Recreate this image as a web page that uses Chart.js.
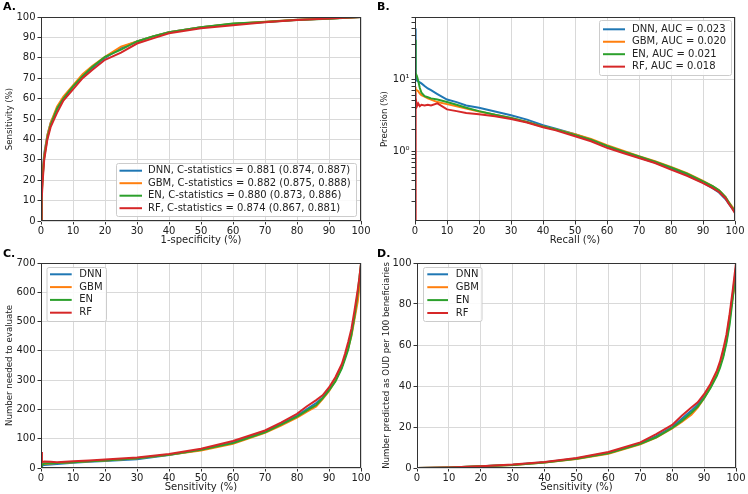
<!DOCTYPE html>
<html>
<head>
<meta charset="utf-8">
<script src="https://cdn.jsdelivr.net/npm/chart.js@4.4.0/dist/chart.umd.min.js"></script>
<style>
body{margin:0;background:#fff}
#wrap{position:relative;width:748px;height:494px;overflow:hidden}
canvas{position:absolute}
</style>
</head>
<body>
<div id="wrap">
  <canvas id="cA" width="374" height="247" style="left:0;top:0"></canvas>
  <canvas id="cB" width="374" height="247" style="left:374px;top:0"></canvas>
  <canvas id="cC" width="374" height="247" style="left:0;top:247px"></canvas>
  <canvas id="cD" width="374" height="247" style="left:374px;top:247px"></canvas>
</div>
<script>
const models = ['DNN', 'GBM', 'EN', 'RF'];
const colors = ['#1f77b4', '#ff7f0e', '#2ca02c', '#d62728'];

// A. ROC (1-specificity % vs sensitivity %)
const rocFpr = [0, 0.2, 0.5, 1, 2, 3, 5, 7, 10, 13, 16, 20, 25, 30, 35, 40, 50, 60, 70, 80, 90, 100];
const rocDNN = [0, 15, 24, 33, 42, 48, 55, 60, 66, 71, 75, 80, 85, 88, 90.5, 92.5, 95, 96.6, 97.6, 98.6, 99.3, 100];
const rocGBM = [0, 13, 22, 32, 42, 48, 56, 61, 66.5, 72, 76, 80.5, 85.5, 88, 90.5, 92.5, 95, 96.7, 97.7, 98.7, 99.3, 100];
const rocEN  = [0, 12, 21, 31, 41, 47, 55, 60, 66, 71, 75.5, 80.5, 84, 88, 90.5, 92.5, 95, 96.8, 97.6, 98.5, 99.2, 100];
const rocRF  = [0, 10, 19, 30, 40, 46, 53, 59, 64.5, 70, 74, 79, 82.5, 87, 89.5, 92, 94.5, 96, 97.4, 98.5, 99.3, 100];
const rocLabels = ['DNN, C-statistics = 0.881 (0.874, 0.887)', 'GBM, C-statistics = 0.882 (0.875, 0.888)',
  'EN, C-statistics = 0.880 (0.873, 0.886)', 'RF, C-statistics = 0.874 (0.867, 0.881)'];

// B. precision-recall (log y)
const prRecall = [0, 0.1, 0.3, 0.6, 1, 1.5, 2, 3, 4, 5, 7, 10, 13, 16, 20, 25, 30, 35, 40, 44, 50, 55, 60, 65, 70, 75, 80, 85, 90, 93, 95, 97, 98, 99, 100];
const prDNN = [50, 20, 12, 9.5, 9.3, 9, 8.7, 8, 7.4, 7, 6.2, 5.2, 4.8, 4.3, 4.0, 3.55, 3.15, 2.75, 2.3, 2.05, 1.72, 1.45, 1.18, 0.98, 0.82, 0.7, 0.58, 0.47, 0.37, 0.31, 0.27, 0.22, 0.19, 0.165, 0.145];
const prGBM = [7.5, 7.8, 7.2, 7, 6.8, 6.3, 6, 5.7, 5.4, 5.2, 4.8, 4.5, 4.2, 3.9, 3.55, 3.2, 2.9, 2.55, 2.2, 2.0, 1.72, 1.48, 1.22, 1.02, 0.86, 0.73, 0.61, 0.5, 0.39, 0.33, 0.29, 0.235, 0.2, 0.175, 0.155];
const prEN  = [35, 18, 12, 11, 9.5, 7.5, 6.5, 5.8, 5.6, 5.4, 5.2, 4.8, 4.4, 4.0, 3.6, 3.2, 2.9, 2.55, 2.2, 2.0, 1.68, 1.45, 1.19, 1.0, 0.85, 0.72, 0.6, 0.49, 0.385, 0.33, 0.29, 0.235, 0.2, 0.17, 0.15];
const prRF  = [0.1, 6.5, 5.5, 4.2, 4.6, 4.2, 4.4, 4.3, 4.4, 4.3, 4.6, 3.8, 3.6, 3.4, 3.25, 3.05, 2.8, 2.5, 2.15, 1.95, 1.62, 1.38, 1.12, 0.95, 0.81, 0.69, 0.56, 0.46, 0.365, 0.31, 0.275, 0.225, 0.19, 0.165, 0.14];
const prLabels = ['DNN, AUC = 0.023', 'GBM, AUC = 0.020', 'EN, AUC = 0.021', 'RF, AUC = 0.018'];
const prTicks = [0.2, 0.3, 0.4, 0.5, 0.6, 0.7, 0.8, 0.9, 1, 2, 3, 4, 5, 6, 7, 8, 9, 10, 20, 30, 40, 50, 60, 70];

// C. number needed to evaluate
const nneSens = [0, 0.3, 1, 3, 5, 10, 15, 20, 30, 40, 50, 60, 70, 75, 80, 83, 86, 88, 90, 92, 94, 95, 96, 97, 98, 99, 99.5, 100];
const nneDNN = [5, 8, 10, 12, 14, 18, 21, 24, 30, 44, 62, 86, 124, 150, 178, 200, 222, 240, 268, 300, 345, 380, 415, 460, 520, 590, 630, 690];
const nneGBM = [10, 12, 14, 15, 17, 20, 23, 26, 33, 45, 60, 83, 120, 145, 172, 192, 210, 235, 262, 298, 345, 378, 410, 450, 510, 570, 620, 680];
const nneEN  = [8, 12, 15, 16, 17, 20, 23, 26, 33, 45, 62, 85, 122, 148, 175, 196, 215, 238, 265, 295, 340, 372, 405, 455, 520, 600, 650, 695];
const nneRF  = [55, 20, 22, 21, 20, 23, 26, 29, 36, 48, 66, 92, 128, 155, 185, 210, 232, 248, 275, 310, 355, 390, 430, 475, 540, 610, 650, 700];

// D. number predicted as OUD per 100 beneficiaries
const oudSens = [0, 10, 20, 30, 40, 50, 60, 70, 75, 80, 83, 86, 88, 90, 92, 94, 95, 96, 97, 98, 99, 100];
const oudDNN = [0, 0.3, 0.8, 1.6, 2.8, 4.6, 7.4, 12, 15.5, 20, 24, 28, 31, 35, 40, 46, 50.5, 55, 62, 72, 85, 98];
const oudGBM = [0, 0.3, 0.8, 1.5, 2.7, 4.4, 7.0, 11.5, 14.8, 19.3, 22.5, 26, 29.5, 34, 39.5, 46, 50, 55, 63, 74, 84, 92];
const oudEN  = [0, 0.3, 0.8, 1.5, 2.7, 4.5, 7.2, 11.8, 15, 19.5, 23, 27, 30, 34, 39, 45, 49, 54, 61, 70, 83, 96];
const oudRF  = [0, 0.3, 0.9, 1.7, 2.9, 4.9, 7.8, 12.5, 16.5, 21, 25.5, 29.5, 32, 36, 41, 47.5, 52, 58, 65, 75, 87, 100];

Chart.defaults.font.family = "'DejaVu Sans', sans-serif";
Chart.defaults.font.size = 10;
Chart.defaults.color = '#222';

const frame = {
  id: 'frame',
  afterDatasetsDraw(c) {
    const a = c.chartArea, ctx = c.ctx;
    ctx.save();
    ctx.strokeStyle = '#333'; ctx.lineWidth = 1;
    const l = Math.round(a.left) + 0.5, t = Math.round(a.top) + 0.5;
    ctx.strokeRect(l, t, Math.round(a.right) - Math.round(a.left) - 1, Math.round(a.bottom) - Math.round(a.top) - 1);
    ctx.restore();
  },
  afterDraw(c, args, o) {
    const ctx = c.ctx, lg = o.legend;
    ctx.save();
    ctx.font = "bold 11px 'DejaVu Sans'";
    ctx.fillStyle = '#000'; ctx.textBaseline = 'middle';
    ctx.fillText(o.letter, 3, 7.5);
    // legend box
    ctx.fillStyle = 'rgba(255,255,255,0.85)';
    ctx.strokeStyle = '#cccccc'; ctx.lineWidth = 1;
    ctx.beginPath();
    ctx.roundRect(lg.x + 0.5, lg.y + 0.5, lg.w, lg.h, 2);
    ctx.fill(); ctx.stroke();
    ctx.font = "10px 'DejaVu Sans'";
    c.data.datasets.forEach((d, i) => {
      const y = lg.r0 + i * lg.step;
      ctx.strokeStyle = d.borderColor; ctx.lineWidth = 2;
      ctx.beginPath(); ctx.moveTo(lg.l1, y); ctx.lineTo(lg.l2, y); ctx.stroke();
      ctx.fillStyle = '#222';
      ctx.fillText(d.label, lg.tx, y);
    });
    ctx.restore();
  }
};

function makePanel(id, p) {
  const series = p.ys.map((ys, i) => ({
    label: p.labels[i],
    data: ys.map((v, k) => ({x: p.xs[k], y: v})),
    borderColor: colors[i],
    borderWidth: 2,
    pointRadius: 0,
    tension: 0,
    order: 3 - i
  }));
  const gridCol = p.gridCol || (() => '#d9d9d9');
  return new Chart(document.getElementById(id), {
    type: 'line',
    data: {datasets: series},
    options: {
      responsive: false, animation: false, events: [],
      layout: {padding: {left: 0, top: p.area.t, right: 374 - p.area.r, bottom: 0}},
      plugins: {legend: {display: false}, tooltip: {enabled: false},
        frame: {letter: p.letter, legend: p.legend}},
      scales: {
        x: {
          type: 'linear', min: 0, max: 100,
          border: {display: false},
          grid: {color: '#d9d9d9', lineWidth: 1, tickLength: 3.5, tickColor: '#333'},
          ticks: {stepSize: 10, padding: 1, maxRotation: 0, autoSkip: false},
          title: {display: true, text: p.xTitle, padding: {top: 0, bottom: p.xtPad}},
          afterFit: s => { s.height = 247 - p.area.b; }
        },
        y: {
          type: p.yType || 'linear', min: p.yMin, max: p.yMax,
          border: {display: false},
          grid: {color: gridCol, lineWidth: 1, tickLength: 3.5, tickColor: '#333'},
          ticks: Object.assign({padding: 2, autoSkip: false}, p.yTickOpts || {}),
          title: {display: true, text: p.yTitle, font: {size: 8.6}, padding: {top: p.ytPad, bottom: 0}},
          afterBuildTicks: p.yBuild,
          afterFit: s => { s.width = p.area.l; }
        }
      }
    },
    plugins: [frame]
  });
}

makePanel('cA', {
  letter: 'A.', xs: rocFpr, ys: [rocDNN, rocGBM, rocEN, rocRF], labels: rocLabels,
  area: {l: 41, r: 361, t: 17, b: 221}, yMin: 0, yMax: 100, yTickOpts: {stepSize: 10},
  xTitle: '1-specificity (%)', yTitle: 'Sensitivity (%)', xtPad: 1, ytPad: 4.8,
  legend: {x: 116, y: 163, w: 240, h: 53, r0: 170.7, step: 12.5, l1: 119.5, l2: 142, tx: 148}
});

makePanel('cB', {
  letter: 'B.', xs: prRecall, ys: [prDNN, prGBM, prEN, prRF], labels: prLabels,
  area: {l: 41, r: 361, t: 17, b: 221}, yType: 'logarithmic', yMin: 0.109, yMax: 72,
  yTickOpts: {callback: v => v === 1 ? '10\u2070' : v === 10 ? '10\u00b9' : ''},
  yBuild: s => { s.ticks = prTicks.map(v => ({value: v, major: v === 1 || v === 10})); },
  gridCol: ctx => (ctx.tick && (ctx.tick.value === 1 || ctx.tick.value === 10)) ? '#d9d9d9' : 'rgba(0,0,0,0)',
  xTitle: 'Recall (%)', yTitle: 'Precision (%)', xtPad: 0.5, ytPad: 5.8,
  legend: {x: 225, y: 20, w: 132, h: 55, r0: 29.3, step: 12.45, l1: 229, l2: 251, tx: 258}
});

makePanel('cC', {
  letter: 'C.', xs: nneSens, ys: [nneDNN, nneGBM, nneEN, nneRF], labels: models,
  area: {l: 41, r: 361, t: 16, b: 221}, yMin: 0, yMax: 700, yTickOpts: {stepSize: 100},
  xTitle: 'Sensitivity (%)', yTitle: 'Number needed to evaluate', xtPad: 1, ytPad: 4.8,
  legend: {x: 46.5, y: 20, w: 59.5, h: 54, r0: 27.3, step: 12.8, l1: 50, l2: 71.7, tx: 79.3}
});

makePanel('cD', {
  letter: 'D.', xs: oudSens, ys: [oudDNN, oudGBM, oudEN, oudRF], labels: models,
  area: {l: 43, r: 362, t: 16, b: 221}, yMin: 0, yMax: 100, yTickOpts: {stepSize: 20},
  xTitle: 'Sensitivity (%)', yTitle: 'Number predicted as OUD per 100 beneficiaries', xtPad: 1, ytPad: 7.5,
  legend: {x: 49, y: 20, w: 58.5, h: 54, r0: 27.3, step: 12.9, l1: 53.3, l2: 74, tx: 81.7}
});
</script>
</body>
</html>
